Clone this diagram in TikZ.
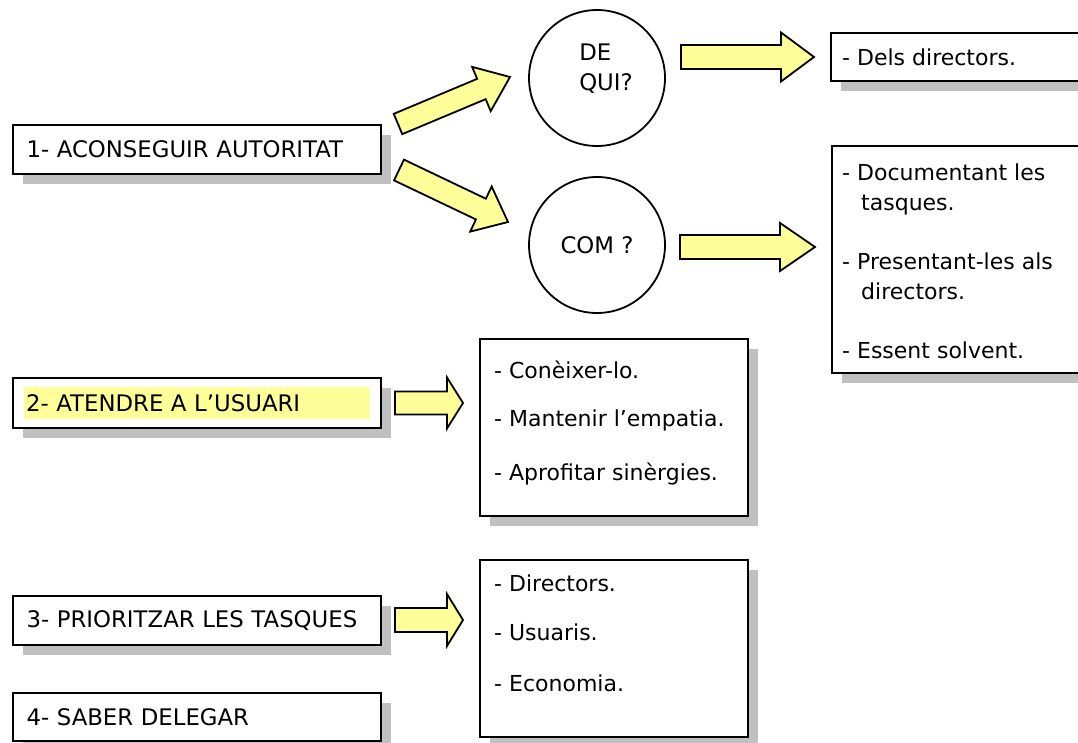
\documentclass[tikz,border=0pt]{standalone}
\usepackage{fontspec}
\setmainfont{DejaVu Sans}
\usetikzlibrary{shadows,calc}
\definecolor{pale}{RGB}{255,255,153}
\definecolor{shade}{RGB}{192,192,192}
\tikzset{
  box/.style={draw=black, line width=2.1pt, fill=white, rectangle, inner sep=0pt, anchor=north west,
    drop shadow={shadow xshift=10pt, shadow yshift=-10pt, fill=shade, opacity=1}},
  titlebox/.style={box, minimum width=368pt, minimum height=49pt, text width=341pt, inner xsep=13.5pt, align=left},
  circ/.style={circle, draw=black, line width=1.8pt, fill=white, minimum size=136pt, inner sep=0pt},
  txt/.style={anchor=base west, inner sep=0pt, font=\fontsize{22}{30}\selectfont},
  barrow/.style={draw=black, line width=1.8pt, fill=pale, line join=miter},
}
\newcommand\blockarr[5]{%
  \path let \p1=(#1), \p2=(#2) in \pgfextra{%
    \pgfmathsetmacro\baAng{atan2(\y2-\y1,\x2-\x1)}%
    \pgfmathsetmacro\baLen{veclen(\x2-\x1,\y2-\y1)}%
    \global\let\baAngG\baAng\global\let\baLenG\baLen};
  \draw[barrow, shift={(#1)}, rotate=\baAngG]
    (0,-#3) -- ({\baLenG-#5},-#3) -- ({\baLenG-#5},-#4) -- (\baLenG,0)
    -- ({\baLenG-#5},#4) -- ({\baLenG-#5},#3) -- (0,#3) -- cycle;
}
\begin{document}
\begin{tikzpicture}[x=1pt, y=-1pt, font=\fontsize{22.8}{30}\selectfont]
\useasboundingbox (0,0) rectangle (1078,742);
\clip (0,0) rectangle (1078,742);
\fill[white] (0,0) rectangle (1078,742);

% left boxes
\node[titlebox] (b1) at (12,124) {1- ACONSEGUIR AUTORITAT};
\node[box, minimum width=368pt, minimum height=50pt] (b2) at (12,377) {};
\node[fill=pale, minimum width=346pt, minimum height=32pt, text width=342pt, inner xsep=2pt, align=left] (b2t) at (b2.center) {2- ATENDRE A L’USUARI};
\node[titlebox] (b3) at (12,595) {3- PRIORITZAR LES TASQUES};
\node[titlebox, minimum height=48pt] (b4) at (12,692) {4- SABER DELEGAR};

% circles
\node[circ, label={[align=left, inner sep=0pt, xshift=9pt, yshift=9.5pt]center:{DE\\QUI?}}] (dq) at (597,78) {};
\node[circ] (com) at (597,245) {COM ?};

% right boxes
\node[box, minimum width=270pt, minimum height=48pt] (dels) at (830,32) {};
\node[txt] (delst) at (842,65) {- Dels directors.};

\node[box, minimum width=270pt, minimum height=227pt] (doc) at (831,145) {};
\node[txt] (doc1) at (842,180) {- Documentant les};
\node[txt] (doc2) at (861,210) {tasques.};
\node[txt] (doc3) at (842,269) {- Presentant-les als};
\node[txt] (doc4) at (861,299) {directors.};
\node[txt] (doc5) at (842,358) {- Essent solvent.};

\node[box, minimum width=268pt, minimum height=177pt] (usr) at (479,338) {};
\node[txt] (usr1) at (494,378) {- Conèixer-lo.};
\node[txt] (usr2) at (494,426) {- Mantenir l’empatia.};
\node[txt] (usr3) at (494,480) {- Aprofitar sinèrgies.};

\node[box, minimum width=268pt, minimum height=177pt] (pri) at (479,559) {};
\node[txt] (pri1) at (494,591) {- Directors.};
\node[txt] (pri2) at (494,640) {- Usuaris.};
\node[txt] (pri3) at (494,691) {- Economia.};

% arrow end points
\coordinate (a1s) at (398,124); \coordinate (a1e) at (510,77);
\coordinate (a2s) at (399,170); \coordinate (a2e) at (508,222);
\coordinate (a3s) at (681,57);  \coordinate (a3e) at (814,57);
\coordinate (a4s) at (680,247); \coordinate (a4e) at (815,247);
\coordinate (a5s) at (395,403); \coordinate (a5e) at (463,403);
\coordinate (a6s) at (395,620); \coordinate (a6e) at (463,620);

\blockarr{a1s}{a1e}{11}{24}{31}
\blockarr{a2s}{a2e}{11.5}{25}{30}
\blockarr{a3s}{a3e}{12}{24.5}{33}
\blockarr{a4s}{a4e}{12}{24}{35}
\blockarr{a5s}{a5e}{11.5}{25.5}{16}
\blockarr{a6s}{a6e}{12}{26}{16}
\end{tikzpicture}
\end{document}
